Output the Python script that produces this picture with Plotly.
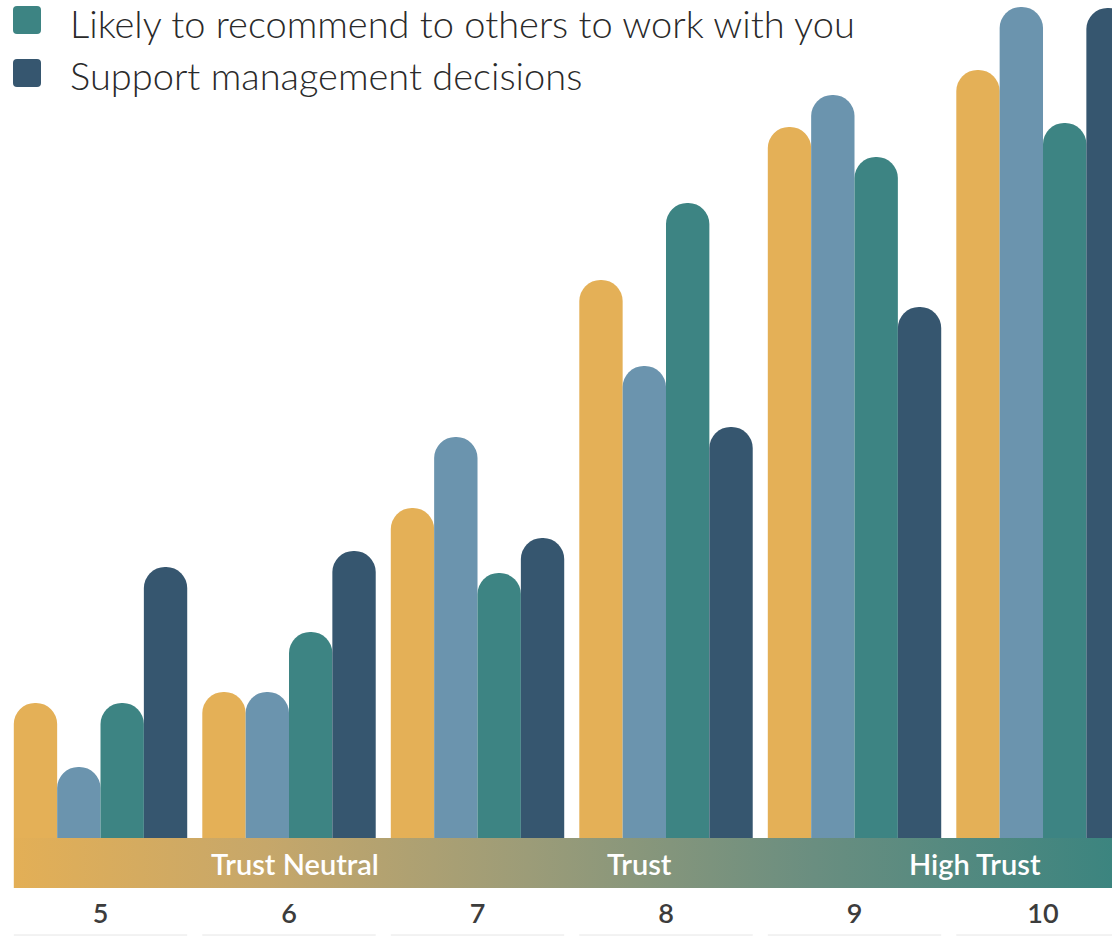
import plotly.graph_objects as go

# Trust score buckets
categories = [5, 6, 7, 8, 9, 10]

# Share of respondents per trust score (one list per outcome)
series_a = [13.5, 14.6, 33.0, 55.8, 71.1, 76.8]
series_b = [7.1, 14.6, 40.1, 47.2, 74.3, 83.1]
series_c = [13.5, 20.6, 26.5, 63.5, 68.1, 71.5]
series_d = [27.1, 28.7, 30.0, 41.1, 53.1, 83.0]

series_names = [
    "Series A",
    "Series B",
    "Likely to recommend to others to work with you",
    "Support management decisions",
]
series_colors = ["#E4B057", "#6B94AE", "#3D8483", "#36566F"]

band_labels = ["Trust Neutral", "Trust", "High Trust"]
band_label_x = [6.03, 7.86, 9.64]

BAND_DEPTH = 5.0
GROUP_HALF = 0.46

fig = go.Figure()

for name, vals, color in zip(series_names, [series_a, series_b, series_c, series_d], series_colors):
    fig.add_trace(go.Bar(
        x=categories, y=vals, name=name,
        marker=dict(color=color, line=dict(width=0), cornerradius="50%"),
        showlegend=False, hoverinfo="skip",
    ))

# Gradient band under the bars
x_left = categories[0] - GROUP_HALF
x_right = 10.6
fig.add_trace(go.Scatter(
    x=[x_left, x_right, x_right, x_left, x_left],
    y=[-BAND_DEPTH, -BAND_DEPTH, 0, 0, -BAND_DEPTH],
    mode="lines", line=dict(width=0), fill="toself",
    fillgradient=dict(
        type="horizontal",
        colorscale=[[0.0, "#E3AF56"], [0.22, "#C6A76A"], [0.45, "#9C9C78"],
                    [0.7, "#6A8E80"], [1.0, "#35837F"]],
    ),
    showlegend=False, hoverinfo="skip",
))

annotations = []
for text, xv in zip(band_labels, band_label_x):
    annotations.append(dict(
        x=xv, y=-BAND_DEPTH / 2, xref="x", yref="y", text=text, showarrow=False,
        font=dict(family="Lato", size=29, color="white", weight=600),
        xanchor="center", yanchor="middle",
    ))

# Legend: two visible entries drawn as swatches and labels
W, H = 1112, 888
legend_entries = [
    (series_names[2], series_colors[2], 20, 23),
    (series_names[3], series_colors[3], 73, 75),
]
shapes = []
for text, color, sy, ty in legend_entries:
    s, r = 14, 4
    path = (f"M {-s + r},{-s} L {s - r},{-s} Q {s},{-s} {s},{-s + r} L {s},{s - r} Q {s},{s} {s - r},{s} "
            f"L {-s + r},{s} Q {-s},{s} {-s},{s - r} L {-s},{-s + r} Q {-s},{-s} {-s + r},{-s} Z")
    shapes.append(dict(
        type="path", xref="paper", yref="paper", xsizemode="pixel", ysizemode="pixel",
        xanchor=27 / W, yanchor=1 - sy / H, path=path,
        fillcolor=color, line=dict(width=0), layer="above",
    ))
    annotations.append(dict(
        x=69 / W, y=1 - ty / H, xref="paper", yref="paper", text=text, showarrow=False,
        font=dict(family="Lato", size=38, color="#2A2A2A", weight=300),
        xanchor="left", yanchor="middle", borderpad=0,
    ))

# Faint rule under each category label
for c in categories:
    shapes.append(dict(
        type="line", xref="x", yref="paper", x0=c - GROUP_HALF, x1=c + GROUP_HALF,
        y0=-47 / H, y1=-47 / H, line=dict(color="#E6E6E6", width=1),
    ))

fig.update_layout(
    width=1112, height=936,
    margin=dict(l=0, r=0, t=0, b=48, pad=0),
    paper_bgcolor="white", plot_bgcolor="white",
    barmode="group", bargap=0.08, bargroupgap=0,
    showlegend=False,
    annotations=annotations, shapes=shapes,
    xaxis=dict(
        range=[4.4668, 10.366], tickvals=categories, ticktext=[str(c) for c in categories],
        showgrid=False, zeroline=False, showline=False, ticks="",
        tickfont=dict(family="Lato", size=27, color="#3C3C3C", weight=600),
        ticklabelstandoff=7, fixedrange=True,
    ),
    yaxis=dict(
        range=[-BAND_DEPTH, 83.8], visible=False, showgrid=False, zeroline=False, fixedrange=True,
    ),
)

fig.write_html("out.html", config={"displayModeBar": False})
